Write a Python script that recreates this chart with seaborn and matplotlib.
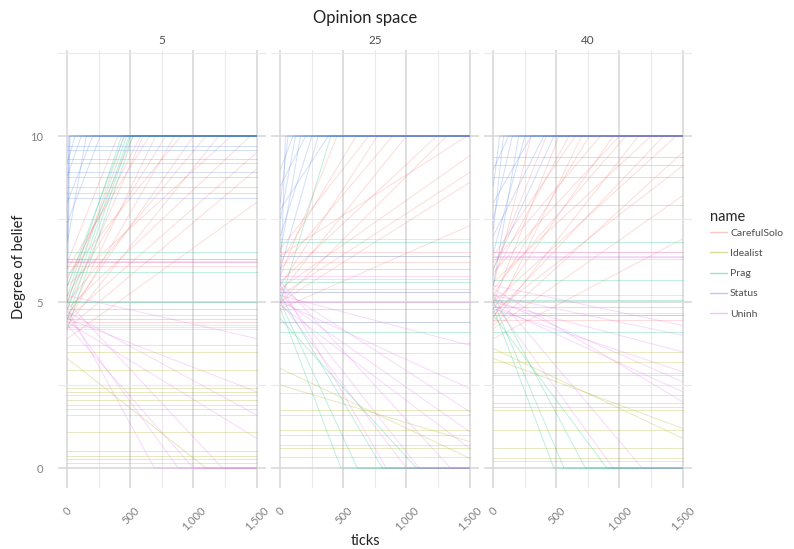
import pandas as pd
import matplotlib.pyplot as plt
import seaborn as sns
from matplotlib.lines import Line2D
from matplotlib.ticker import MultipleLocator, FuncFormatter

# agent types and facet values
names = ["CarefulSolo", "Idealist", "Prag", "Status", "Uninh"]
palette = ["#F8766D", "#A3A500", "#00BF7D", "#4F7FE8", "#E76BF3"]
panels = ["5", "25", "40"]
last_tick = 1500

# agents whose belief never moves (belief level)
flat_5 = {
    "CarefulSolo": [6.2, 6.1, 4.6, 4.4],
    "Idealist": [3.7, 3.5, 2.95, 2.4, 2.3, 2.2, 2.05, 1.9, 1.78, 1.6, 1.1, 0.52, 0.37, 0.27, 0.15],
    "Prag": [6.5, 6.3, 5.9, 5.0, 4.8, 4.5],
    "Status": [9.7, 9.58, 9.3, 9.19, 8.92, 8.77, 8.47, 8.27, 8.12],
    "Uninh": [6.3, 6.25, 6.2, 4.3, 4.25, 4.2],
}
# agents that drift: (start belief, tick where it stops, belief there)
moving_5 = {
    "CarefulSolo": [(5.0, 450, 10), (5.5, 520, 10), (4.8, 600, 10), (6.0, 650, 10), (4.5, 700, 10),
                    (5.2, 780, 10), (4.4, 850, 10), (5.8, 900, 10), (4.6, 1000, 10), (5.0, 1100, 10),
                    (4.3, 1200, 10), (5.5, 1300, 10), (4.8, 1450, 10), (4.5, 1500, 9.5),
                    (4.2, 1500, 9.0), (3.9, 1500, 8.0), (6.2, 400, 10), (5.7, 580, 10)],
    "Idealist": [(3.3, 1100, 0)],
    "Prag": [(5.0, 470, 10), (4.5, 500, 10), (5.2, 430, 10), (4.2, 520, 10), (5.5, 450, 10), (4.8, 490, 10)],
    "Status": [(5.0, 20, 10), (6.0, 10, 10), (6.9, 15, 10), (7.4, 260, 10), (8.8, 110, 10),
               (9.2, 60, 10), (8.0, 200, 10), (6.8, 150, 10)],
    "Uninh": [(4.8, 690, 0), (4.6, 880, 0), (5.0, 1230, 0), (4.5, 1500, 2.3), (4.7, 1500, 1.6),
              (4.4, 1500, 0.9), (5.2, 1500, 3.9), (4.3, 1000, 0)],
}

flat_25 = {
    "CarefulSolo": [6.5, 6.2, 5.7, 5.4],
    "Idealist": [3.76, 3.46, 2.86, 2.26, 1.75, 1.6, 1.14, 1.0, 0.69, 0.6, 0.34],
    "Prag": [6.8, 6.4, 6.0, 5.6, 5.3, 4.8, 4.4, 4.1],
    "Status": [],
    "Uninh": [6.9, 6.4, 5.8, 5.3, 5.0, 4.4],
}
moving_25 = {
    "CarefulSolo": [(5.8, 450, 10), (6.2, 600, 10), (5.5, 770, 10), (6.0, 890, 10), (5.3, 1000, 10),
                    (5.6, 1240, 10), (5.0, 1320, 10), (6.4, 1480, 10), (5.4, 1500, 9.4),
                    (5.2, 1500, 8.9), (5.0, 1500, 8.6), (4.8, 1500, 7.3), (6.6, 700, 10)],
    "Idealist": [(3.0, 1500, 0.3), (2.5, 1500, 0.8)],
    "Prag": [(5.0, 400, 10), (4.8, 480, 0), (5.0, 610, 0), (5.2, 810, 0), (4.5, 1080, 0)],
    "Status": [(8.0, 60, 10), (7.5, 120, 10), (6.5, 160, 10), (8.5, 200, 10), (7.0, 250, 10),
               (6.0, 300, 10), (7.8, 380, 10), (9.0, 100, 10), (5.5, 40, 10)],
    "Uninh": [(5.5, 840, 0), (5.0, 1000, 0), (5.3, 1100, 0), (5.6, 1350, 0), (5.2, 1500, 3.7),
              (5.4, 1500, 1.7), (5.1, 1500, 1.1), (4.9, 1500, 0.6), (5.0, 1500, 2.4)],
}

flat_40 = {
    "CarefulSolo": [6.5, 6.3, 5.2, 4.67, 4.46],
    "Idealist": [3.5, 3.2, 2.86, 2.8, 2.2, 1.95, 1.85, 1.75, 1.14, 0.6, 0.3, 0.2],
    "Prag": [6.82, 6.37, 5.66, 5.06, 4.86, 4.6, 4.1],
    "Status": [9.38, 9.13, 8.77, 7.92],
    "Uninh": [6.5, 6.4, 4.6],
}
moving_40 = {
    "CarefulSolo": [(5.5, 300, 10), (6.0, 420, 10), (5.0, 520, 10), (5.8, 600, 10), (4.5, 700, 10),
                    (5.2, 760, 10), (6.2, 850, 10), (4.8, 950, 10), (5.4, 1050, 10), (4.4, 1150, 10),
                    (5.6, 1250, 10), (4.6, 1350, 10), (5.0, 1450, 10), (4.3, 1500, 9.5),
                    (4.7, 1500, 9.1), (4.2, 1500, 8.2), (3.9, 1500, 6.9), (5.9, 1000, 10), (6.4, 650, 10)],
    "Idealist": [(3.6, 1500, 0.9), (3.3, 1500, 1.2)],
    "Prag": [(4.8, 480, 0), (5.0, 560, 0), (5.2, 730, 0), (4.6, 900, 0)],
    "Status": [(8.5, 50, 10), (7.5, 150, 10), (6.5, 250, 10), (8.0, 300, 10), (7.0, 400, 10),
               (6.0, 480, 10), (9.0, 120, 10), (5.5, 200, 10), (7.2, 80, 10)],
    "Uninh": [(5.0, 950, 0), (5.3, 1180, 0), (5.5, 1500, 4.3), (5.2, 1500, 4.0), (5.0, 1500, 3.5),
              (4.8, 1500, 2.9), (5.1, 1500, 2.6), (4.9, 1500, 2.3), (5.4, 1500, 2.0)],
}

# long table: one row per point of each agent path
rows = []
agent = 0
for panel, flat, moving in zip(panels, [flat_5, flat_25, flat_40], [moving_5, moving_25, moving_40]):
    for name in names:
        for y in flat[name]:
            agent += 1
            rows.append((panel, name, agent, 0, y))
            rows.append((panel, name, agent, last_tick, y))
        for y0, t1, y1 in moving[name]:
            agent += 1
            rows.append((panel, name, agent, 0, y0))
            rows.append((panel, name, agent, t1, y1))
            if t1 < last_tick:
                rows.append((panel, name, agent, last_tick, y1))
df = pd.DataFrame(rows, columns=["panel", "name", "agent", "ticks", "belief"])

sns.set_theme(style="white")
plt.rcParams["font.family"] = ["Lato", "DejaVu Sans"]

fig, axes = plt.subplots(1, 3, figsize=(7.94, 5.49), dpi=100, sharey=True)
fig.subplots_adjust(left=0.073, right=0.8715, top=0.9095, bottom=0.111, wspace=0.024)

for ax, panel in zip(axes, panels):
    sns.lineplot(data=df[df["panel"] == panel], x="ticks", y="belief", hue="name",
                 hue_order=names, palette=palette, units="agent", estimator=None,
                 lw=0.7, alpha=0.25, legend=False, ax=ax)
    ax.set_xlim(-75, 1575)
    ax.set_ylim(-0.6, 12.6)
    ax.xaxis.set_major_locator(MultipleLocator(500))
    ax.xaxis.set_minor_locator(MultipleLocator(250))
    ax.yaxis.set_major_locator(MultipleLocator(5))
    ax.yaxis.set_minor_locator(MultipleLocator(2.5))
    ax.xaxis.set_major_formatter(FuncFormatter(lambda v, p: f"{int(v):,}"))
    ax.grid(which="major", color="#D6D6D6", lw=1.1)
    ax.grid(which="minor", color="#EAEAEA", lw=0.8)
    ax.set_axisbelow(True)
    for s in ax.spines.values():
        s.set_visible(False)
    ax.tick_params(axis="x", which="both", length=0, labelrotation=45, pad=12,
                   labelsize=8, labelcolor="#7F7F7F")
    ax.tick_params(axis="y", which="both", length=0, pad=11, labelsize=8, labelcolor="#7F7F7F")
    ax.set_xlabel("")
    ax.set_ylabel("")
    ax.set_title(panel, fontsize=8.5, color="#4D4D4D", pad=4)

fig.text(365 / 794, 1 - 18 / 549, "Opinion space", ha="center", va="center", fontsize=12, color="#222222")
fig.text(365 / 794, 1 - 541 / 549, "ticks", ha="center", va="center", fontsize=10.5, color="#222222")
fig.text(19 / 794, 1 - 267 / 549, "Degree of belief", ha="center", va="center", rotation=90,
         fontsize=10.5, color="#222222")

handles = [Line2D([], [], color=c, lw=1.0, alpha=0.4) for c in palette]
leg = fig.legend(handles, names, title="name", loc="upper left",
                 bbox_to_anchor=(703 / 794, 1 - 203 / 549), frameon=False,
                 fontsize=7.5, title_fontsize=10.5, handlelength=1.6, handletextpad=0.3,
                 labelspacing=1.05, borderpad=0.2)
leg._legend_box.align = "left"
leg._legend_box.sep = 3
for t in leg.get_texts():
    t.set_color("#4D4D4D")

plt.savefig("out.png", dpi=100)
